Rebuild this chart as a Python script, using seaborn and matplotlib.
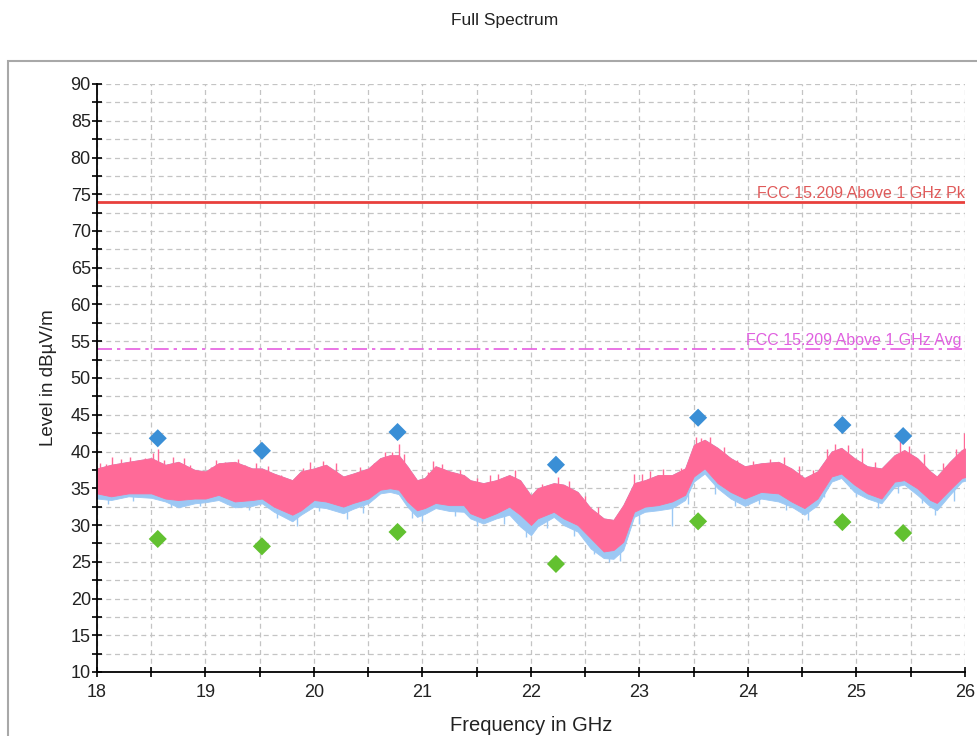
import numpy as np
import pandas as pd
import matplotlib
matplotlib.use("Agg")
import matplotlib.pyplot as plt
from matplotlib.patches import Rectangle
import seaborn as sns

# ---- data ----
freq = [18.0, 18.13, 18.29, 18.5, 18.63, 18.75, 18.9, 19.0, 19.12, 19.27, 19.43, 19.52,
        19.63, 19.8, 19.88, 20.0, 20.11, 20.27, 20.36, 20.5, 20.61, 20.7, 20.78, 20.86,
        20.95, 21.02, 21.12, 21.25, 21.38, 21.44, 21.56, 21.68, 21.8, 21.9, 22.0, 22.06,
        22.21, 22.3, 22.43, 22.55, 22.67, 22.76, 22.85, 22.95, 23.05, 23.17, 23.3, 23.42,
        23.5, 23.6, 23.72, 23.84, 23.97, 24.12, 24.28, 24.4, 24.52, 24.64, 24.77, 24.86,
        24.98, 25.1, 25.23, 25.35, 25.44, 25.56, 25.68, 25.74, 25.86, 25.97, 26.0]
pk_top = [37.7, 38.2, 38.6, 39.1, 38.2, 38.6, 37.5, 37.3, 38.4, 38.6, 37.7, 37.7,
          37.0, 36.1, 37.3, 37.7, 38.2, 36.6, 37.0, 37.7, 39.1, 39.5, 39.5, 38.0,
          36.1, 36.4, 38.0, 37.3, 36.8, 36.1, 35.7, 36.1, 36.8, 36.1, 34.0, 35.0,
          35.7, 35.5, 34.5, 32.3, 30.9, 30.7, 32.7, 35.7, 36.1, 36.8, 36.8, 37.7,
          40.9, 41.6, 40.5, 39.1, 38.0, 38.4, 38.6, 37.7, 36.4, 37.3, 40.0, 40.5,
          39.1, 38.0, 37.7, 39.5, 40.2, 39.1, 37.3, 36.6, 38.6, 40.2, 40.4]
pk_bot = [34.3, 33.9, 34.3, 34.3, 33.6, 33.4, 33.6, 33.6, 34.1, 33.2, 33.4, 33.6,
          32.5, 31.4, 32.0, 33.4, 33.2, 32.5, 33.0, 33.6, 34.8, 35.0, 34.8, 33.2,
          32.0, 32.3, 33.0, 32.7, 32.7, 31.6, 30.9, 31.6, 32.5, 31.4, 30.0, 30.9,
          31.8, 30.9, 30.0, 28.2, 26.4, 26.6, 27.7, 31.8, 32.5, 32.7, 33.2, 34.1,
          36.6, 37.7, 35.7, 34.5, 33.6, 34.5, 34.3, 33.2, 32.3, 33.6, 36.6, 37.0,
          35.5, 34.3, 33.6, 35.9, 36.1, 35.0, 33.4, 33.0, 34.8, 36.4, 36.5]
pk_blue_bot = [33.6, 33.4, 33.9, 33.7, 33.2, 32.4, 32.95, 33.1, 33.4, 32.4, 32.6, 32.95,
               31.8, 30.5, 31.4, 32.5, 32.3, 31.6, 32.2, 32.95, 34.3, 34.5, 34.2, 32.5,
               31.1, 31.5, 32.3, 31.9, 31.8, 30.9, 30.2, 30.9, 31.4, 29.8, 28.6, 29.8,
               31.1, 30.0, 29.1, 26.8, 25.5, 25.4, 26.6, 31.1, 31.8, 32.0, 32.3, 33.4,
               35.9, 37.0, 35.0, 33.6, 32.6, 33.6, 33.2, 32.5, 31.4, 32.7, 35.9, 36.4,
               34.5, 33.6, 32.95, 35.2, 35.5, 34.1, 32.5, 32.0, 34.1, 35.9, 36.0]

# upward excursions of the pink trace
spike_freq = [18.03, 18.08, 18.14, 18.22, 18.30, 18.36, 18.44, 18.52, 18.56, 18.62, 18.70,
              18.80, 18.86, 19.05, 19.10, 19.18, 19.30, 19.36, 19.47, 19.58, 19.70, 19.90,
              19.96, 20.08, 20.20, 20.42, 20.55, 20.65, 20.72, 20.78, 20.83, 21.05, 21.10,
              21.18, 21.35, 21.50, 21.62, 21.70, 21.85, 22.10, 22.25, 22.35, 22.50, 22.62,
              22.90, 22.95, 23.02, 23.10, 23.22, 23.38, 23.46, 23.52, 23.57, 23.65, 23.78,
              23.90, 24.05, 24.20, 24.33, 24.47, 24.60, 24.73, 24.80, 24.92, 25.05, 25.17,
              25.30, 25.40, 25.48, 25.62, 25.80, 25.92, 25.99]
spike_top = [38.5, 38.3, 39.2, 39.0, 39.3, 38.6, 39.1, 39.8, 40.3, 38.9, 39.2,
             39.1, 38.2, 37.9, 38.8, 38.6, 39.0, 38.1, 38.4, 38.0, 36.8, 37.8,
             38.6, 38.7, 38.5, 37.9, 38.4, 39.9, 40.0, 41.0, 39.6, 37.2, 38.7,
             38.3, 37.5, 36.4, 36.8, 37.0, 37.5, 35.6, 36.5, 36.0, 34.0, 32.5,
             33.6, 37.0, 36.9, 37.3, 37.6, 37.8, 38.6, 42.0, 41.8, 42.0, 40.6,
             38.8, 38.7, 39.0, 39.3, 38.0, 37.5, 40.4, 41.0, 40.9, 40.5, 38.6,
             38.4, 41.5, 40.8, 39.6, 38.4, 40.3, 42.5]

# downward excursions of the light-blue trace
dip_freq = [18.10, 18.33, 18.68, 18.95, 19.20, 19.40, 19.66, 19.84, 20.05, 20.30, 20.45,
            20.90, 21.00, 21.30, 21.50, 21.75, 21.95, 22.15, 22.40, 22.58, 22.72, 22.82,
            23.00, 23.30, 23.45, 23.70, 23.88, 24.10, 24.35, 24.55, 24.70, 25.00, 25.20,
            25.38, 25.60, 25.72, 25.90]
dip_low = [32.9, 33.2, 32.5, 32.6, 32.9, 32.1, 31.0, 29.8, 31.9, 30.8, 31.7,
           30.9, 30.6, 31.2, 29.8, 30.1, 28.4, 29.6, 28.5, 26.0, 24.9, 25.1,
           30.2, 29.9, 32.8, 34.2, 32.6, 32.9, 32.0, 30.7, 33.8, 33.9, 32.3,
           34.3, 33.0, 31.3, 33.2]

peak_freq = [18.56, 19.52, 20.77, 22.23, 23.54, 24.87, 25.43]
peak_level = [41.8, 40.1, 42.65, 38.2, 44.6, 43.6, 42.1]
avg_freq = [18.56, 19.52, 20.77, 22.23, 23.54, 24.87, 25.43]
avg_level = [28.1, 27.1, 29.05, 24.7, 30.5, 30.4, 28.9]

limit_pk = 74.0
limit_avg = 54.0
limit_pk_label = "FCC 15.209 Above 1 GHz Pk"
limit_avg_label = "FCC 15.209 Above 1 GHz Avg"

x_ticks = [18, 19, 20, 21, 22, 23, 24, 25, 26]
y_ticks = [10, 15, 20, 25, 30, 35, 40, 45, 50, 55, 60, 65, 70, 75, 80, 85, 90]

# ---- styling ----
sns.set_style("white")
plt.rcParams['font.family'] = ['Liberation Sans', 'DejaVu Sans']

PINK = "#ff6a98"
LBLUE = "#9cc8f4"
BLUE_M = "#3a8fd6"
GREEN_M = "#62c130"
RED = "#e8403c"
MAG = "#e55ce0"

fig = plt.figure(figsize=(9.78, 7.36), dpi=100)
ax = fig.add_axes([97/978, 1-672/736, (965-97)/978, (672-84)/736])

# traces
ax.fill_between(freq, pk_blue_bot, pk_top, color=LBLUE, linewidth=0.6, zorder=2)
ax.vlines(dip_freq, dip_low, [np.interp(f, freq, pk_bot) for f in dip_freq],
          color=LBLUE, linewidth=1.0, zorder=2)
ax.fill_between(freq, pk_bot, pk_top, color=PINK, linewidth=0.6, zorder=3)
ax.vlines(spike_freq, [np.interp(f, freq, pk_top) - 1.5 for f in spike_freq], spike_top,
          color=PINK, linewidth=1.0, zorder=3)

# limit lines
lim_df = pd.DataFrame({"x": [18, 26, 18, 26],
                       "y": [limit_pk, limit_pk, limit_avg, limit_avg],
                       "lim": ["pk", "pk", "avg", "avg"]})
sns.lineplot(data=lim_df[lim_df.lim == "pk"], x="x", y="y", color=RED, linewidth=2.0,
             ax=ax, zorder=4)
sns.lineplot(data=lim_df[lim_df.lim == "avg"], x="x", y="y", color=MAG, linewidth=1.2,
             ax=ax, zorder=4, dashes=False)
ax.lines[-1].set_dashes([9, 3, 2, 3])
ax.text(25.995, limit_pk + 0.05, limit_pk_label, color="#e05a5a", fontsize=11.5,
        ha="right", va="bottom", zorder=5)
ax.text(25.97, limit_avg + 0.05, limit_avg_label, color="#e060e0", fontsize=11.5,
        ha="right", va="bottom", zorder=5)

# markers
mk = pd.DataFrame({"f": peak_freq + avg_freq, "lvl": peak_level + avg_level,
                   "kind": ["peak"] * len(peak_freq) + ["avg"] * len(avg_freq)})
sns.scatterplot(data=mk, x="f", y="lvl", hue="kind", palette={"peak": BLUE_M, "avg": GREEN_M},
                marker="D", s=85, edgecolor="none", legend=False, ax=ax, zorder=6)

# axes
ax.set_xlim(18, 26)
ax.set_ylim(10, 90)
ax.set_xticks(x_ticks)
ax.set_xticklabels([str(t) for t in x_ticks])
ax.set_yticks(y_ticks)
ax.set_yticklabels([str(t) for t in y_ticks])
ax.set_xticks(np.arange(18.5, 26, 1.0), minor=True)
ax.set_yticks(np.arange(12.5, 90, 5.0), minor=True)
ax.grid(True, which="both", color="#c4c4c4", linestyle=(0, (4, 3)), linewidth=0.9, zorder=0)
ax.set_axisbelow(True)
for s in ["top", "right"]:
    ax.spines[s].set_visible(False)
for s in ["left", "bottom"]:
    ax.spines[s].set_color("black")
    ax.spines[s].set_linewidth(1.3)
    ax.spines[s].set_zorder(7)
ax.tick_params(which="both", direction="inout", length=7, width=1.2, color="black",
               labelsize=13, labelcolor="#222222", bottom=True, left=True)
ax.tick_params(axis="y", pad=1)
ax.tick_params(axis="x", pad=5)
ax.set_xlabel("Frequency in GHz", fontsize=14.5, color="#222222", labelpad=11)
ax.set_ylabel("Level in dBµV/m", fontsize=13.5, color="#222222", labelpad=10)

fig.text(505/978, 1-20/736, "Full Spectrum", fontsize=12.5, color="#222222",
         ha="center", va="center")

frame = Rectangle((8/978, -0.2), 1.2, 0.2 + (1-61/736), transform=fig.transFigure,
                  fill=False, edgecolor="#a8a8a8", linewidth=1.5, clip_on=False)
fig.patches.append(frame)

fig.savefig("out.png", dpi=100, facecolor="white")
